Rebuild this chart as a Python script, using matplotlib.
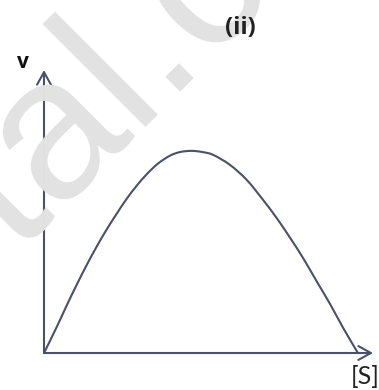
import matplotlib
matplotlib.use("Agg")
import matplotlib.pyplot as plt
from matplotlib.path import Path
from matplotlib.patches import PathPatch

# Data (substrate concentration vs reaction velocity)
substrate = [0, 0.40, 0.72, 1.04, 1.36, 1.68, 2.00, 2.32, 2.63, 2.95, 3.27, 3.63, 4.01,
             4.33, 4.70, 5.05, 5.39, 5.92, 6.46, 6.98, 7.41, 7.83, 8.26, 8.68, 9.11,
             9.53, 10.0]
velocity = [0, 0.127, 0.234, 0.337, 0.435, 0.527, 0.612, 0.690, 0.762, 0.827, 0.884,
            0.937, 0.976, 0.994, 1.0, 0.994, 0.980, 0.931, 0.856, 0.757, 0.668, 0.572,
            0.468, 0.356, 0.243, 0.124, 0.0]
x_label = "[S]"
y_label = "v"
panel_label = "(ii)"
watermark = "tal.co"

W, H = 379, 390
fig = plt.figure(figsize=(W / 100, H / 100), dpi=100)
fig.patch.set_facecolor("white")

# watermark
fig.text(17 / W, 1 - 253 / H, watermark, fontsize=145, color="#e2e2e2",
         family="Liberation Sans", rotation=45, rotation_mode="anchor",
         ha="left", va="baseline", zorder=0)

ax = fig.add_axes([44 / W, (H - 353) / H, (373 - 44) / W, (353 - 70) / H])
ax.set_xlim(0, 10.48)
ax.set_ylim(0, 1.40)
ax.patch.set_alpha(0)
for s in ax.spines.values():
    s.set_visible(False)
ax.set_xticks([])
ax.set_yticks([])

col = "#4a5068"

# smooth curve through the read points (Catmull-Rom rendered as cubic Bezier segments)
pts = list(zip(substrate, velocity))
verts = [pts[0]]
codes = [Path.MOVETO]
n = len(pts)
for i in range(n - 1):
    p0 = pts[i - 1] if i > 0 else pts[i]
    p1 = pts[i]
    p2 = pts[i + 1]
    p3 = pts[i + 2] if i + 2 < n else pts[i + 1]
    c1 = (p1[0] + (p2[0] - p0[0]) / 6, p1[1] + (p2[1] - p0[1]) / 6)
    c2 = (p2[0] - (p3[0] - p1[0]) / 6, p2[1] - (p3[1] - p1[1]) / 6)
    verts += [c1, c2, p2]
    codes += [Path.CURVE4] * 3
ax.add_patch(PathPatch(Path(verts, codes), facecolor="none", edgecolor=col, lw=1.5,
                       capstyle="round", joinstyle="round", zorder=3))

arrow = dict(arrowstyle="->,head_length=0.45,head_width=0.25", color=col, lw=1.5,
             mutation_scale=20, shrinkA=0, shrinkB=0)
ax.annotate("", xy=(1, 0), xytext=(0, 0), xycoords="axes fraction",
            textcoords="axes fraction", arrowprops=arrow, annotation_clip=False)
ax.annotate("", xy=(0, 1), xytext=(0, 0), xycoords="axes fraction",
            textcoords="axes fraction", arrowprops=arrow, annotation_clip=False)

fig.text(23 / W, 1 - 62 / H, y_label, fontsize=15, fontweight="bold", color="#111111",
         family="Open Sans", ha="center", va="center")
fig.text(380 / W, 1 - 377 / H, x_label, fontsize=18, color="#222222",
         family="Lato", ha="right", va="center")
fig.text(240 / W, 1 - 28 / H, panel_label, fontsize=17, fontweight="bold", color="#222222",
         family="Open Sans", ha="center", va="center")

fig.savefig("out.png", dpi=100, facecolor="white")
